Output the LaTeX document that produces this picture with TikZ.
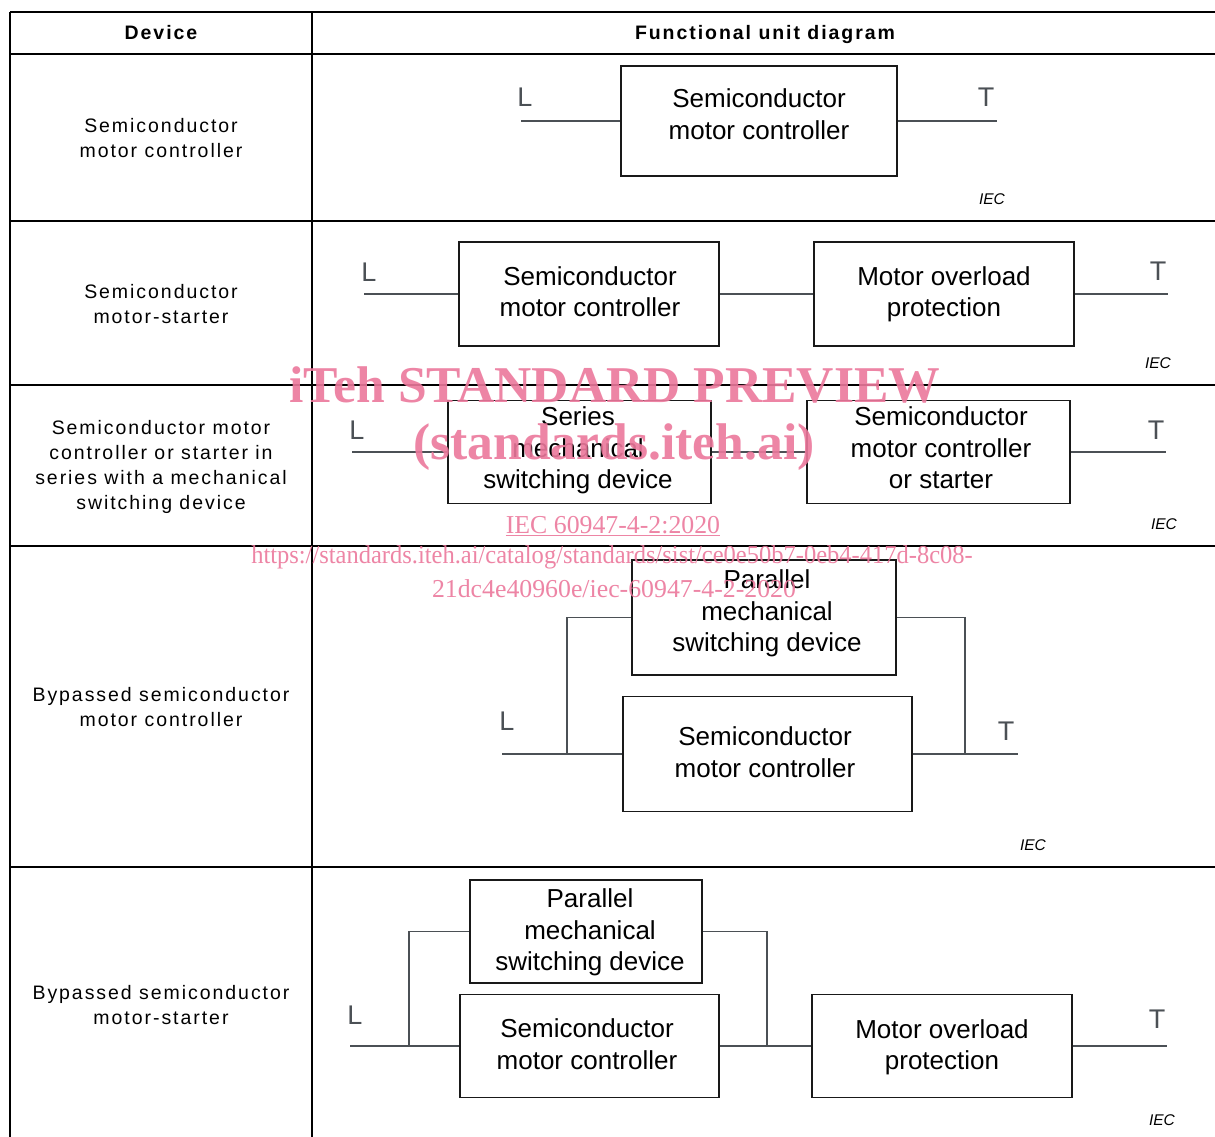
\documentclass[tikz,border=0pt]{standalone}
\usepackage{fontspec}
\usepackage{graphicx}
\setmainfont{Liberation Sans}
\newfontfamily\lsfont[LetterSpace=10]{Liberation Sans}
\newfontfamily\wmfont{Liberation Serif}
\definecolor{wirec}{RGB}{75,80,85}
\definecolor{wmc}{RGB}{236,120,156}
\tikzset{
  gridline/.style={line width=2.6pt, black},
  box/.style={draw=black!90, line width=1.8pt, inner sep=0pt, rectangle},
  wire/.style={draw=wirec, line width=1.6pt},
  btxt/.style={font=\fontsize{26}{31.5}\selectfont, align=center, inner sep=0pt},
  ctxt/.style={font=\lsfont\fontsize{19.5}{25}\selectfont, align=center, inner sep=0pt},
  htxt/.style={font=\lsfont\bfseries\fontsize{19.5}{25}\selectfont, inner sep=0pt, anchor=base},
  lbl/.style={font=\fontsize{27}{27}\selectfont, text=wirec, inner sep=0pt},
  iec/.style={font=\itshape\fontsize{15.5}{15.5}\selectfont, inner sep=0pt},
  wmk/.style={text=wmc, font=\wmfont\bfseries\fontsize{51.6}{51.6}\selectfont, inner sep=0pt},
  wms/.style={text=wmc, font=\wmfont\fontsize{25.8}{25.8}\selectfont, inner sep=0pt},
}
\begin{document}
\begin{tikzpicture}[x=1pt,y=-1pt]
\useasboundingbox (0,0) rectangle (1215,1137);
\fill[white] (0,0) rectangle (1215,1137);
% table
\draw[gridline] (10,12) -- (1215,12);
\foreach \yy in {54,221,385,546,867} \draw[gridline] (10,\yy) -- (1215,\yy);
\draw[gridline] (10,12) -- (10,1137);
\draw[gridline] (312,12) -- (312,1137);
% header
\node[htxt] (hdev) at (161,40) {Device};
\node[htxt] (hfun) at (765,40) {Functional unit diagram};
% left column
\node[ctxt] (c1) at (161,138) {Semiconductor\\motor controller};
\node[ctxt] (c2) at (161,304) {Semiconductor\\motor-starter};
\node[ctxt] (c3) at (161,467) {Semiconductor motor\\controller or starter in\\series with a mechanical\\switching device};
\node[ctxt] (c4) at (161,707) {Bypassed semiconductor\\motor controller};
\node[ctxt] (c5) at (161,1005) {Bypassed semiconductor\\motor-starter};

% row 1
\node[box, minimum width=276pt, minimum height=110pt] (b1) at (759,121) {};
\node[btxt] (b1t) at (759,114) {Semiconductor\\motor controller};
\coordinate (L1) at (521,121); \coordinate (T1) at (997,121);
\draw[wire] (L1) -- (b1.west);
\draw[wire] (b1.east) -- (T1);
\node[lbl] (l1) at (525,97) {L};
\node[lbl] (t1) at (986,97) {T};
\node[iec] (i1) at (992,199) {IEC};

% row 2
\node[box, minimum width=260pt, minimum height=104pt] (b2a) at (589,294) {};
\node[btxt] (b2at) at (590,291.5) {Semiconductor\\motor controller};
\node[box, minimum width=260pt, minimum height=104pt] (b2b) at (944,294) {};
\node[btxt] (b2bt) at (944,294.5) {Motor overload\\protection};
\coordinate (L2) at (364,294); \coordinate (T2) at (1168,294);
\draw[wire] (L2) -- (b2a.west);
\draw[wire] (b2a.east) -- (b2b.west);
\draw[wire] (b2b.east) -- (T2);
\node[lbl] (l2) at (369,272) {L};
\node[lbl] (t2) at (1158,271) {T};
\node[iec] (i2) at (1158,363) {IEC};

% row 3
\node[box, minimum width=263pt, minimum height=103pt] (b3a) at (579.5,452) {};
\node[btxt] (b3at) at (578,450.5) {Series\\mechanical\\switching device};
\node[box, minimum width=263pt, minimum height=103pt] (b3b) at (938.5,452) {};
\node[btxt] (b3bt) at (941,448) {Semiconductor\\motor controller\\or starter};
\coordinate (L3) at (352,452); \coordinate (T3) at (1166,452);
\draw[wire] (L3) -- (b3a.west);
\draw[wire] (b3a.east) -- (b3b.west);
\draw[wire] (b3b.east) -- (T3);
\node[lbl] (l3) at (357,430) {L};
\node[lbl] (t3) at (1156,430) {T};
\node[iec] (i3) at (1164,524) {IEC};

% row 4
\node[box, minimum width=264pt, minimum height=115pt] (b4a) at (764,617.5) {};
\node[btxt] (b4at) at (767,613.5) {Parallel\\mechanical\\switching device};
\node[box, minimum width=289pt, minimum height=115pt] (b4b) at (767.5,754) {};
\node[btxt] (b4bt) at (765,752) {Semiconductor\\motor controller};
\coordinate (L4) at (502,754); \coordinate (T4) at (1018,754);
\coordinate (J4l) at (567,754); \coordinate (J4r) at (965,754);
\draw[wire] (L4) -- (b4b.west);
\draw[wire] (b4b.east) -- (T4);
\draw[wire] (J4l) |- (b4a.west);
\draw[wire] (b4a.east) -| (J4r);
\node[lbl] (l4) at (507,721) {L};
\node[lbl] (t4) at (1006,731) {T};
\node[iec] (i4) at (1033,845) {IEC};

% row 5
\node[box, minimum width=232pt, minimum height=103pt] (b5a) at (586,931.5) {};
\node[btxt] (b5at) at (590,932.5) {Parallel\\mechanical\\switching device};
\node[box, minimum width=259pt, minimum height=103pt] (b5b) at (589.5,1046) {};
\node[btxt] (b5bt) at (587,1044) {Semiconductor\\motor controller};
\node[box, minimum width=260pt, minimum height=103pt] (b5c) at (942,1046) {};
\node[btxt] (b5ct) at (942,1047.5) {Motor overload\\protection};
\coordinate (L5) at (350,1046); \coordinate (T5) at (1167,1046);
\coordinate (J5l) at (409,1046); \coordinate (J5r) at (767,1046);
\draw[wire] (L5) -- (b5b.west);
\draw[wire] (b5b.east) -- (b5c.west);
\draw[wire] (b5c.east) -- (T5);
\draw[wire] (J5l) |- (b5a.west);
\draw[wire] (b5a.east) -| (J5r);
\node[lbl] (l5) at (355,1015) {L};
\node[lbl] (t5) at (1157,1019) {T};
\node[iec] (i5) at (1162,1120) {IEC};

% watermark
\begin{scope}[opacity=0.9]
\node[wmk] (wm1) at (615,385) {iTeh STANDARD PREVIEW};
\node[wmk] (wm2) at (614,447) {(standards.iteh.ai)};
\node[wms] (wm3) at (613,526) {\underline{IEC 60947-4-2:2020}};
\node[wms] (wm4) at (612,557) {\scalebox{0.95}[1]{https://standards.iteh.ai/catalog/standards/sist/ce0e50b7-0eb4-417d-8c08-}};
\node[wms] (wm5) at (614,589) {21dc4e40960e/iec-60947-4-2-2020};
\end{scope}
\end{tikzpicture}
\end{document}
